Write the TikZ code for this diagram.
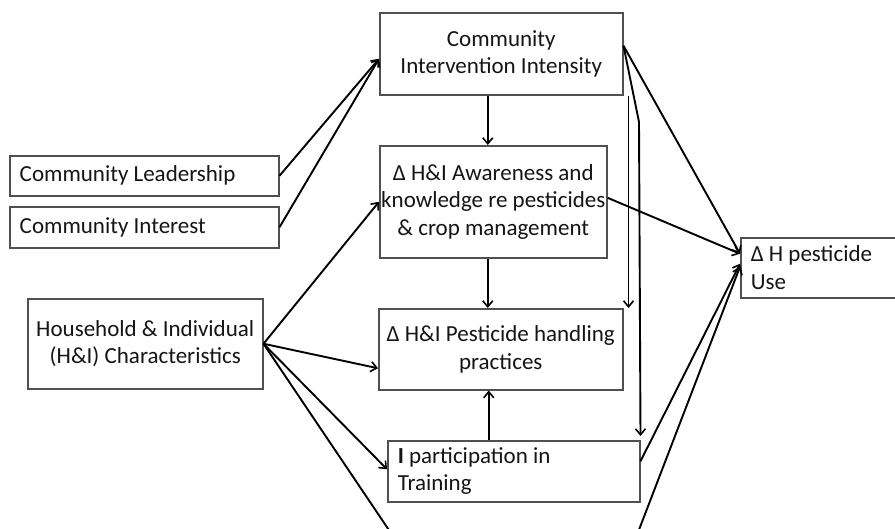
\documentclass[tikz,border=0pt]{standalone}
\usepackage{fontspec}
\setmainfont{Carlito}
\usetikzlibrary{arrows.meta}
\definecolor{boxline}{HTML}{505050}
\definecolor{txt}{HTML}{151515}
\begin{document}
\begin{tikzpicture}[x=1pt,y=-1pt,
  box/.style={draw=boxline, line width=1.5pt, fill=white, anchor=north west, text=txt,
    font={\fontsize{23}{27.5}\selectfont}, inner sep=0pt},
  lbox/.style={box, align=flush left, inner xsep=10pt},
  cbox/.style={box, align=center},
  conn/.style={line width=1.9pt, draw=black},
  arr/.style={conn, -{Straight Barb[length=6pt,width=10pt,line width=1.6pt]}}
]
\useasboundingbox (0,0) rectangle (895,528);
\clip (0,0) rectangle (895,528);

\node[cbox, minimum width=243pt, minimum height=82pt] (cii) at (379,12) {Community\\Intervention Intensity};
\node[cbox, minimum width=227pt, minimum height=112pt] (aw) at (379,145) {Δ H\&I Awareness and\\knowledge re pesticides\\\& crop management};
\node[cbox, minimum width=244pt, minimum height=81pt] (hp) at (378,308) {Δ H\&I Pesticide handling\\practices};
\node[lbox, text width=232pt, minimum height=61pt] (tr) at (387,440) {\textbf{I} participation in\\Training};
\node[lbox, text width=150pt, minimum height=60pt] (hu) at (740,237) {Δ H pesticide\\Use};
\node[lbox, text width=249pt, minimum height=40pt] (cl) at (9,155) {Community Leadership};
\node[lbox, text width=249pt, minimum height=41pt] (ci) at (9,206) {Community Interest};
\node[cbox, minimum width=235pt, minimum height=90pt] (hi) at (27,298) {Household \& Individual\\(H\&I) Characteristics};

\coordinate (bend) at (639,122);
\coordinate (vleft) at (401,548);
\coordinate (vright) at (632,548);

% community factors to intervention intensity
\draw[arr] (cl.east) -- ([yshift=-5pt]cii.west);
\draw[arr] (ci.east) -- ([yshift=-5pt]cii.west);

% central column
\draw[arr] ([xshift=-13.5pt]cii.south) -- ([xshift=-13.5pt]cii.south |- aw.north);
\draw[arr] ([xshift=-5.5pt]aw.south) -- ([xshift=-5.5pt]aw.south |- hp.north);
\draw[arr] ([xshift=-25pt]tr.north) -- ([xshift=-25pt]tr.north |- hp.south);

% intervention intensity to the right
\draw[arr] ([xshift=5pt]cii.south east) -- ([xshift=5pt]cii.south east |- hp.north);
\draw[arr] ([yshift=8pt]cii.east) -- (bend) -- ([yshift=4pt]tr.north east);
\draw[arr] ([yshift=8pt]cii.east) -- ([yshift=14pt]hu.west);

% to pesticide use
\draw[arr] ([yshift=4pt]aw.east) -- ([yshift=14pt]hu.west);
\draw[arr] ([yshift=10pt]tr.east) -- ([yshift=4pt]hu.west);
\draw[arr] (vright) -- ([yshift=1pt]hu.west);

% household characteristics
\draw[arr] (hi.east) -- (aw.west);
\draw[arr] (hi.east) -- ([yshift=-19pt]hp.west);
\draw[arr] (hi.east) -- ([yshift=2pt]tr.west);
\draw[conn] (hi.east) -- (vleft);
\end{tikzpicture}
\end{document}
